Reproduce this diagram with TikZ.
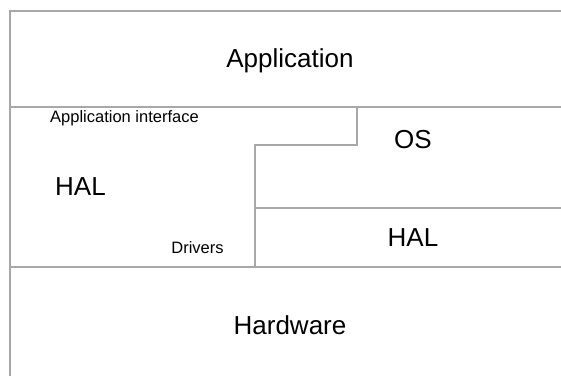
\documentclass[tikz,border=0pt]{standalone}
\usepackage{fontspec}
\setmainfont{Liberation Sans}
\definecolor{linegray}{HTML}{A8A8A8}
\begin{document}
\begin{tikzpicture}[x=1pt,y=-1pt,
  sep/.style={draw=linegray,line width=1.5pt},
  big/.style={inner sep=0pt,anchor=base,font=\fontsize{26}{31}\selectfont,text=black},
  small/.style={inner sep=0pt,anchor=base,font=\fontsize{16.5}{20}\selectfont,text=black}]
\useasboundingbox[fill=white] (0,0) rectangle (561,376);
% frame lines
\draw[sep] (561,11) -- (10,11) -- (10,376);
\draw[sep] (10,107) -- (561,107);
\draw[sep] (357,107) -- (357,145) -- (255,145) -- (255,267);
\draw[sep] (255,208) -- (561,208);
\draw[sep] (10,267) -- (561,267);
% labels
\node[big] (app) at (290,67) {Application};
\node[small] (api) at (124.5,122.3) {Application interface};
\node[big] (os) at (413,148.3) {OS};
\node[big] (halL) at (80.5,195.7) {HAL};
\node[small] (drv) at (197.5,253.3) {Drivers};
\node[big] (halR) at (413,246) {HAL};
\node[big] (hw) at (290,334) {Hardware};
\end{tikzpicture}
\end{document}
